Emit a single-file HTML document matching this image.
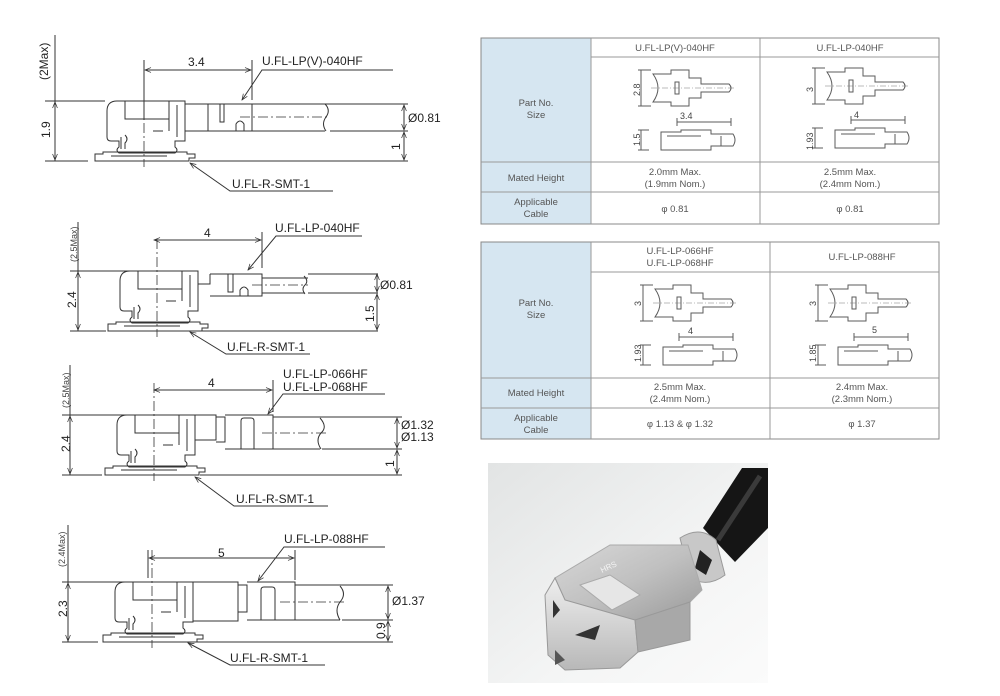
<!DOCTYPE html>
<html><head><meta charset="utf-8"><style>
html,body{margin:0;padding:0;background:#fff;}
svg{display:block;}
text{font-family:"Liberation Sans",sans-serif;}
.l{stroke:#333;stroke-width:1;fill:none;}
.t{font-size:12px;fill:#222;}
.s{font-size:9px;fill:#444;}
.tb{font-size:9.5px;fill:#555;}
</style></head><body>
<svg width="1000" height="696" viewBox="0 0 1000 696" xmlns="http://www.w3.org/2000/svg">
<defs>
<marker id="a" viewBox="0 0 10 10" refX="10" refY="5" markerUnits="userSpaceOnUse" markerWidth="8" markerHeight="6" orient="auto-start-reverse"><path d="M0,1 L10,5 L0,9" fill="none" stroke="#333" stroke-width="1.2"/></marker>
<g id="base">
 <path class="l" d="M0,10 Q0,0 10,0 H78 V40 H68 V46 Q72,49 68,52 H12 Q8,49 12,46 V40 H4 Q0,40 0,36 Z"/>
 <path class="l" d="M18,0 V18 H62 V0 M62,18 V30 M70,4 V36 M46,30 H56"/>
 <path class="l" d="M-12,60 V53 H-4 V51 H80 V53 H88 V57 H82 V60 Z M-12,60 H82 M4,55 H60"/>
 <path class="l" d="M14,36 V48 M18,34 Q22,38 18,42 V48"/>
 <path d="M37,-32 V66" stroke="#333" stroke-width="0.8" stroke-dasharray="10,3,2,3" fill="none"/>
</g>
<g id="thumb">
 <path class="l" d="M0,0 V36 M-3,0 H10 M-3,36 H10"/>
 <path class="l" d="M12,4 H30 V0 H48 V8 H60 V14 H88 Q92,18 88,22 H60 V28 H48 V36 H30 V32 H12 Q22,18 12,4 Z"/>
 <path class="l" d="M34,12 h4 v12 h-4 z"/>
 <path d="M10,18 H95" stroke="#555" stroke-width="0.6" stroke-dasharray="6,2,1,2"/>
 <path class="l" d="M36,52 H90 M36,48 V56 M90,48 V56"/>
 <path class="l" d="M0,60 V80 M-3,60 H8 M-3,80 H8 M20,62 H40 V60 H70 V64 H92 Q96,70 92,76 H70 V80 H20 Z M26,66 H60 M80,66 V76"/>
</g>
</defs>

<!-- Drawing 1 -->
<g>
 <text class="t" transform="translate(48,80) rotate(-90)">(2Max)</text>
 <text class="t" transform="translate(50,138) rotate(-90)">1.9</text>
 <path class="l" d="M55,35 V161 M45,101 H105 M45,161 H88 M190,161 H408 M330,131 H408 M330,104 H408"/>
 <path class="l" d="M55,102 V160" marker-start="url(#a)" marker-end="url(#a)"/>
 <use href="#base" x="107" y="101"/>
 <path class="l" d="M185,104 H252 V131 H185 M208,104 V131 M220,104 V122 H224 V104 M236,131 V124 Q240,118 244,124 V131 M252,104 H330 M252,131 H325"/>
 <path class="l" d="M325,104 Q331,110 326,117 Q321,124 326,131"/>
 <path d="M240,117 H330" stroke="#333" stroke-width="0.8" stroke-dasharray="10,3,2,3"/>
 <path class="l" d="M144,60 V120 M252,60 V100"/>
 <path class="l" d="M145,70 H251" marker-start="url(#a)" marker-end="url(#a)"/>
 <text class="t" x="188" y="66">3.4</text>
 <text class="t" x="262" y="65">U.FL-LP(V)-040HF</text>
 <path class="l" d="M393,70 H262 L242,100" marker-end="url(#a)"/>
 <path class="l" d="M404,105 V130" marker-start="url(#a)" marker-end="url(#a)"/>
 <path class="l" d="M404,132 V160" marker-start="url(#a)" marker-end="url(#a)"/>
 <text class="t" x="408" y="122">Ø0.81</text>
 <text class="t" transform="translate(400,150) rotate(-90)">1</text>
 <path class="l" d="M333,191 H230 L190,163" marker-end="url(#a)"/>
 <text class="t" x="232" y="188">U.FL-R-SMT-1</text>
</g>

<!-- Drawing 2 -->
<g>
 <text class="s" transform="translate(77,262) rotate(-90)">(2.5Max)</text>
 <text class="t" transform="translate(76,308) rotate(-90)">2.4</text>
 <path class="l" d="M78,222 V331 M70,271 H152 M70,331 H106 M195,331 H378 M308,293 H378 M308,274 H378"/>
 <path class="l" d="M78,272 V330" marker-start="url(#a)" marker-end="url(#a)"/>
 <use href="#base" x="120" y="271"/>
 <path class="l" d="M198,274 V297 M198,284 H210 V274 M210,274 H262 V296 H210 M228,274 V292 H233 V274 M240,296 V290 Q244,284 248,290 V296 M262,278 H308 M262,293 H305"/>
 <path class="l" d="M304,276 Q309,281 305,285 Q301,289 305,294"/>
 <path d="M252,285 H308" stroke="#333" stroke-width="0.8" stroke-dasharray="10,3,2,3"/>
 <path class="l" d="M262,232 V268"/>
 <path class="l" d="M154,240 H261" marker-start="url(#a)" marker-end="url(#a)"/>
 <text class="t" x="204" y="237">4</text>
 <text class="t" x="275" y="232">U.FL-LP-040HF</text>
 <path class="l" d="M362,236 H276 L248,270" marker-end="url(#a)"/>
 <path class="l" d="M377,274 V292" marker-start="url(#a)" marker-end="url(#a)"/>
 <path class="l" d="M377,294 V330" marker-start="url(#a)" marker-end="url(#a)"/>
 <text class="t" x="380" y="289">Ø0.81</text>
 <text class="t" transform="translate(374,322) rotate(-90)">1.5</text>
 <path class="l" d="M310,354 H226 L190,332" marker-end="url(#a)"/>
 <text class="t" x="227" y="351">U.FL-R-SMT-1</text>
</g>

<!-- Drawing 3 -->
<g>
 <text class="s" transform="translate(69,408) rotate(-90)">(2.5Max)</text>
 <text class="t" transform="translate(70,452) rotate(-90)">2.4</text>
 <path class="l" d="M70,365 V475 M62,415 H150 M62,475 H102 M200,475 H402 M322,449 H402 M322,417 H402"/>
 <path class="l" d="M70,416 V474" marker-start="url(#a)" marker-end="url(#a)"/>
 <use href="#base" x="117" y="415"/>
 <path class="l" d="M195,415 H216 V440 H195 M216,417 H225 V442 H216 M225,415 H273 V449 H225 M241,449 V421 Q241,418 244,418 H251 Q254,418 254,421 V449 M273,417 H322 M273,449 H320"/>
 <path class="l" d="M320,418 Q328,427 321,433 Q315,440 321,449"/>
 <path d="M262,433 H328" stroke="#333" stroke-width="0.8" stroke-dasharray="10,3,2,3"/>
 <path class="l" d="M273,380 V412"/>
 <path class="l" d="M154,390 H272" marker-start="url(#a)" marker-end="url(#a)"/>
 <text class="t" x="208" y="387">4</text>
 <text class="t" x="283" y="378">U.FL-LP-066HF</text>
 <text class="t" x="283" y="391">U.FL-LP-068HF</text>
 <path class="l" d="M385,394 H283 L268,414" marker-end="url(#a)"/>
 <path class="l" d="M397,418 V448" marker-start="url(#a)" marker-end="url(#a)"/>
 <path class="l" d="M397,450 V474" marker-start="url(#a)" marker-end="url(#a)"/>
 <text class="t" x="401" y="429">Ø1.32</text>
 <text class="t" x="401" y="441">Ø1.13</text>
 <text class="t" transform="translate(394,467) rotate(-90)">1</text>
 <path class="l" d="M328,506 H234 L195,477" marker-end="url(#a)"/>
 <text class="t" x="236" y="503">U.FL-R-SMT-1</text>
</g>

<!-- Drawing 4 -->
<g>
 <text class="s" transform="translate(65,567) rotate(-90)">(2.4Max)</text>
 <text class="t" transform="translate(67,617) rotate(-90)">2.3</text>
 <path class="l" d="M68,525 V642 M62,582 H148 M62,642 H98 M195,642 H393 M342,620 H393 M342,585 H393"/>
 <path class="l" d="M68,583 V641" marker-start="url(#a)" marker-end="url(#a)"/>
 <use href="#base" x="115" y="582"/>
 <path class="l" d="M193,582 H238 V621 H193 M238,585 H247 V612 H238 M247,582 H295 V620 H247 M261,620 V590 Q261,587 264,587 H272 Q275,587 275,590 V620 M295,585 H342 M295,620 H340"/>
 <path class="l" d="M340,586 Q347,594 340,602 Q334,610 340,620"/>
 <path d="M280,602 H345" stroke="#333" stroke-width="0.8" stroke-dasharray="10,3,2,3"/>
 <path class="l" d="M148,550 V578 M295,550 V580"/>
 <path class="l" d="M149,558 H294" marker-start="url(#a)" marker-end="url(#a)"/>
 <text class="t" x="218" y="557">5</text>
 <text class="t" x="284" y="543">U.FL-LP-088HF</text>
 <path class="l" d="M385,547 H284 L258,581" marker-end="url(#a)"/>
 <path class="l" d="M388,586 V619" marker-start="url(#a)" marker-end="url(#a)"/>
 <path class="l" d="M388,621 V641" marker-start="url(#a)" marker-end="url(#a)"/>
 <text class="t" x="392" y="605">Ø1.37</text>
 <text class="t" transform="translate(385,639) rotate(-90)">0.9</text>
 <path class="l" d="M325,665 H230 L188,643" marker-end="url(#a)"/>
 <text class="t" x="230" y="662">U.FL-R-SMT-1</text>
</g>

<!-- Table 1 -->
<g>
 <rect x="481" y="38" width="110" height="186" fill="#d6e6f1"/>
 <rect x="481" y="38" width="458" height="186" fill="none" stroke="#888" stroke-width="1"/>
 <path d="M591,38 V224 M760,38 V224 M591,57 H939 M481,162 H939 M481,192 H939" stroke="#999" stroke-width="1"/>
 <text class="tb" x="675" y="51" text-anchor="middle">U.FL-LP(V)-040HF</text>
 <text class="tb" x="850" y="51" text-anchor="middle">U.FL-LP-040HF</text>
 <text class="tb" x="536" y="106" text-anchor="middle">Part No.</text>
 <text class="tb" x="536" y="118" text-anchor="middle">Size</text>
 <use href="#thumb" x="641" y="70" opacity="0.8"/>
 <use href="#thumb" x="815" y="68" opacity="0.8"/>
 <text class="s" transform="translate(640,96) rotate(-90)">2.8</text>
 <text class="s" x="680" y="119">3.4</text>
 <text class="s" transform="translate(640,146) rotate(-90)">1.5</text>
 <text class="s" transform="translate(813,92) rotate(-90)">3</text>
 <text class="s" x="854" y="118">4</text>
 <text class="s" transform="translate(813,150) rotate(-90)">1.93</text>
 <text class="tb" x="536" y="181" text-anchor="middle">Mated Height</text>
 <text class="tb" x="675" y="175" text-anchor="middle">2.0mm Max.</text>
 <text class="tb" x="675" y="187" text-anchor="middle">(1.9mm Nom.)</text>
 <text class="tb" x="850" y="175" text-anchor="middle">2.5mm Max.</text>
 <text class="tb" x="850" y="187" text-anchor="middle">(2.4mm Nom.)</text>
 <text class="tb" x="536" y="205" text-anchor="middle">Applicable</text>
 <text class="tb" x="536" y="217" text-anchor="middle">Cable</text>
 <text class="tb" x="675" y="212" text-anchor="middle">φ 0.81</text>
 <text class="tb" x="850" y="212" text-anchor="middle">φ 0.81</text>
</g>

<!-- Table 2 -->
<g>
 <rect x="481" y="242" width="110" height="197" fill="#d6e6f1"/>
 <rect x="481" y="242" width="458" height="197" fill="none" stroke="#888" stroke-width="1"/>
 <path d="M591,242 V439 M770,242 V439 M591,272 H939 M481,378 H939 M481,408 H939" stroke="#999" stroke-width="1"/>
 <text class="tb" x="680" y="254" text-anchor="middle">U.FL-LP-066HF</text>
 <text class="tb" x="680" y="266" text-anchor="middle">U.FL-LP-068HF</text>
 <text class="tb" x="862" y="260" text-anchor="middle">U.FL-LP-088HF</text>
 <text class="tb" x="536" y="306" text-anchor="middle">Part No.</text>
 <text class="tb" x="536" y="318" text-anchor="middle">Size</text>
 <use href="#thumb" x="643" y="285" opacity="0.8"/>
 <use href="#thumb" x="818" y="285" opacity="0.8"/>
 <text class="s" transform="translate(641,306) rotate(-90)">3</text>
 <text class="s" x="688" y="334">4</text>
 <text class="s" transform="translate(641,362) rotate(-90)">1.93</text>
 <text class="s" transform="translate(816,306) rotate(-90)">3</text>
 <text class="s" x="872" y="333">5</text>
 <text class="s" transform="translate(816,362) rotate(-90)">1.85</text>
 <text class="tb" x="536" y="396" text-anchor="middle">Mated Height</text>
 <text class="tb" x="680" y="390" text-anchor="middle">2.5mm Max.</text>
 <text class="tb" x="680" y="402" text-anchor="middle">(2.4mm Nom.)</text>
 <text class="tb" x="862" y="390" text-anchor="middle">2.4mm Max.</text>
 <text class="tb" x="862" y="402" text-anchor="middle">(2.3mm Nom.)</text>
 <text class="tb" x="536" y="421" text-anchor="middle">Applicable</text>
 <text class="tb" x="536" y="433" text-anchor="middle">Cable</text>
 <text class="tb" x="680" y="427" text-anchor="middle">φ 1.13 &amp; φ 1.32</text>
 <text class="tb" x="862" y="427" text-anchor="middle">φ 1.37</text>
</g>

<!-- Photo -->
<defs>
 <linearGradient id="bg" x1="0" y1="0" x2="1" y2="1"><stop offset="0" stop-color="#e2e4e4"/><stop offset="0.6" stop-color="#f4f5f5"/><stop offset="1" stop-color="#fbfbfb"/></linearGradient>
 <linearGradient id="met" x1="0" y1="0" x2="1" y2="1"><stop offset="0" stop-color="#d8d8d8"/><stop offset="0.5" stop-color="#c0c0c0"/><stop offset="1" stop-color="#9a9a9a"/></linearGradient>
 <linearGradient id="front" x1="0" y1="0" x2="0" y2="1"><stop offset="0" stop-color="#eee"/><stop offset="1" stop-color="#b8b8b8"/></linearGradient>
</defs>
<rect x="488" y="463" width="280" height="220" fill="url(#bg)"/>
<path d="M742,468 L768,468 L768,528 L735,562 L703,528 Z" fill="#151515"/>
<path d="M760,476 L718,540" stroke="#3a3a3a" stroke-width="5" fill="none"/>
<path d="M680,538 Q700,525 716,540 L725,575 Q708,588 690,578 Z" fill="#c8c8c8" stroke="#999"/>
<path d="M700,550 L712,560 L706,575 L695,568 Z" fill="#222"/>
<path d="M610,545 L688,545 L702,590 L690,602 L635,620 L565,600 L555,578 Z" fill="url(#met)" stroke="#aaa"/>
<path d="M555,578 L565,600 L635,620 L638,652 L620,668 L565,670 L548,655 L545,595 Z" fill="url(#front)" stroke="#999"/>
<path d="M635,620 L690,602 L690,640 L638,652 Z" fill="#a8a8a8" stroke="#999"/>
<path d="M580,585 L610,575 L640,595 L612,610 Z" fill="#e6e6e6" stroke="#aaa"/>
<path d="M553,600 L560,610 L553,618 Z" fill="#333"/>
<path d="M575,635 L600,625 L595,640 Z" fill="#333"/>
<path d="M555,650 L565,660 L555,665 Z" fill="#555"/>
<text x="602" y="573" font-size="8" fill="#f4f4f4" transform="rotate(-25 602 573)">HRS</text>
</svg>
</body></html>
